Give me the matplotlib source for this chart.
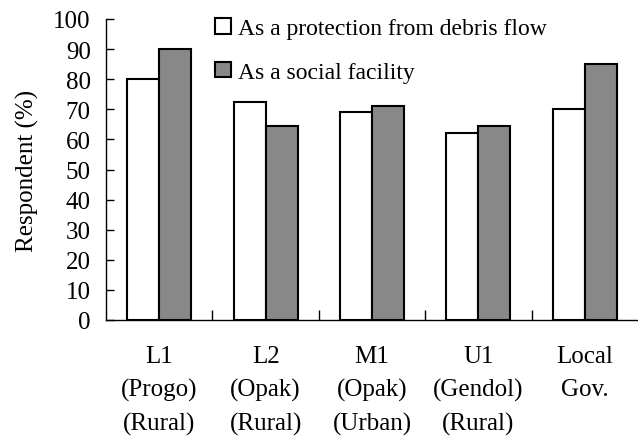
import matplotlib.pyplot as plt
import numpy as np

plt.switch_backend('Agg')
plt.rcParams['font.family'] = ['Liberation Serif', 'DejaVu Serif']

# Data
categories = ['L1\n(Progo)\n(Rural)', 'L2\n(Opak)\n(Rural)', 'M1\n(Opak)\n(Urban)',
              'U1\n(Gendol)\n(Rural)', 'Local\nGov.\n']
protection = [80, 72.5, 69.2, 62, 70]
social = [90, 64.5, 71.2, 64.6, 85]
series_names = ['As a protection from debris flow', 'As a social facility']
yticks = list(range(0, 101, 10))

fig = plt.figure(figsize=(6.38, 4.39), dpi=100)
ax = fig.add_axes([106 / 638, 118 / 439, 532 / 638, 301 / 439])

x = np.arange(len(categories))
w = 0.3
ax.bar(x - w / 2, protection, w, color='white', edgecolor='black', linewidth=1.5,
       label=series_names[0])
ax.bar(x + w / 2, social, w, color='#888888', edgecolor='black', linewidth=1.5,
       label=series_names[1])

ax.set_xlim(-0.5, len(categories) - 0.5)
ax.set_ylim(0, 100)
ax.set_yticks(yticks)
ax.tick_params(axis='y', direction='in', length=6, labelsize=18, width=1, pad=11)
ax.set_ylabel('Respondent (%)', fontsize=18, labelpad=10)

# boundary ticks on the x axis, labels below each category
ax.set_xticks(np.arange(0.5, len(categories) - 0.5, 1))
ax.set_xticklabels([])
ax.tick_params(axis='x', direction='in', length=7, width=1)
for i, lab in enumerate(categories):
    ax.text(i, -8.3, lab, ha='center', va='top', fontsize=18, linespacing=1.62,
            transform=ax.transData)

for s in ['top', 'right']:
    ax.spines[s].set_visible(False)
for s in ['left', 'bottom']:
    ax.spines[s].set_linewidth(1)

ax.legend(loc='upper left', bbox_to_anchor=(100 / 532, 1.035), frameon=False,
          fontsize=17, handlelength=0.65, handleheight=0.65, handletextpad=0.3,
          labelspacing=0.95, borderaxespad=0)

fig.savefig('out.png', dpi=100)
